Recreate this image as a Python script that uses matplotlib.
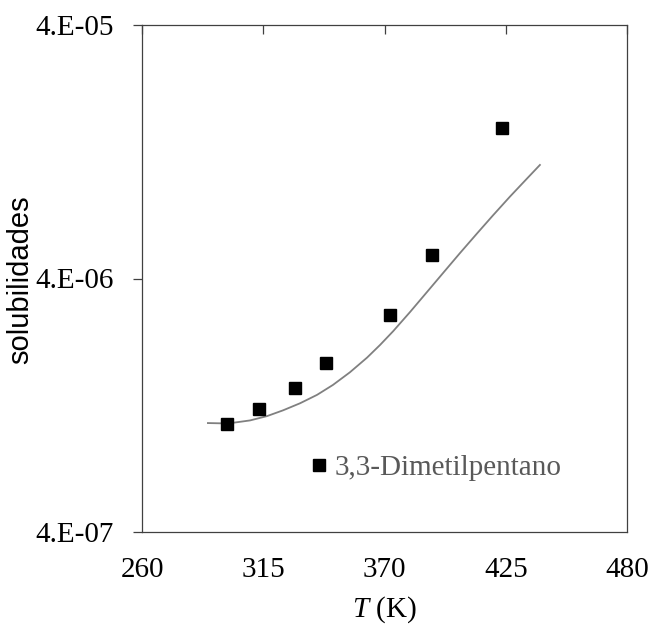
import matplotlib
matplotlib.use("Agg")
import matplotlib.pyplot as plt
from matplotlib.ticker import FixedLocator, NullLocator, FixedFormatter
from matplotlib.lines import Line2D

# Experimental data (markers)
T_exp = [298.7, 313.1, 329.4, 343.5, 372.5, 391.4, 423.4]
sol_exp = [1.067e-6, 1.222e-6, 1.48e-6, 1.86e-6, 2.87e-6, 4.95e-6, 1.57e-5]

# Model curve
T_model = [289.9, 299.0, 309.0, 316.7, 324.0, 331.7, 339.4, 346.6, 354.3, 362.1, 368.0,
           373.9, 381.6, 389.3, 396.5, 404.2, 412.0, 419.2, 426.9, 434.6, 440.5]
sol_model = [1.076e-6, 1.072e-6, 1.102e-6, 1.146e-6, 1.208e-6, 1.288e-6, 1.390e-6,
             1.521e-6, 1.706e-6, 1.950e-6, 2.188e-6, 2.477e-6, 2.951e-6, 3.540e-6,
             4.198e-6, 5.035e-6, 6.026e-6, 7.096e-6, 8.414e-6, 9.908e-6, 1.122e-5]

x_ticks = [260, 315, 370, 425, 480]
y_ticks = [4e-7, 4e-6, 4e-5]
y_tick_labels = ["4.E-07", "4.E-06", "4.E-05"]
series_label = "3,3-Dimetilpentano"

serif = "Liberation Serif"
plt.rcParams["mathtext.fontset"] = "custom"
plt.rcParams["mathtext.it"] = "Liberation Serif:italic"
plt.rcParams["mathtext.rm"] = "Liberation Serif"

fig = plt.figure(figsize=(6.53, 6.27), dpi=100)
ax = fig.add_axes([142/653, 1-532/627, 485/653, 507/627])

ax.plot(T_model, sol_model, color="#808080", lw=1.3, zorder=2)
ax.plot(T_exp, sol_exp, linestyle="none", marker="s", color="black",
        markersize=8.8, zorder=3)

ax.set_yscale("log")
ax.set_xlim(260, 480)
ax.set_ylim(4e-7, 4e-5)
ax.yaxis.set_major_locator(FixedLocator(y_ticks))
ax.yaxis.set_major_formatter(FixedFormatter(y_tick_labels))
ax.yaxis.set_minor_locator(NullLocator())
ax.set_xticks(x_ticks)
ax.set_xticklabels([str(v) for v in x_ticks])

spine_col = "#404040"
for s in ax.spines.values():
    s.set_color(spine_col)
    s.set_linewidth(0.9)

ax.tick_params(axis="y", which="major", direction="out", length=6.5, width=0.9,
               color=spine_col, pad=14, labelsize=21, labelcolor="black")
ax.tick_params(axis="x", which="major", bottom=False, top=True, direction="in",
               length=6.5, width=0.9, color=spine_col, labelbottom=True,
               labeltop=False, pad=18, labelsize=21, labelcolor="black")
for lab in ax.get_xticklabels() + ax.get_yticklabels():
    lab.set_fontfamily(serif)

ax.set_xlabel("$T$ (K)", fontsize=21, fontfamily=serif, labelpad=8)
fig.text(20/653, 1-280/627, "solubilidades", rotation=90, ha="center",
         va="center", fontsize=21, fontfamily="Liberation Sans")

handle = Line2D([], [], linestyle="none", marker="s", color="black", markersize=8.8)
leg = ax.legend([handle], [series_label], loc="center left",
                bbox_to_anchor=((310-142)/485, (532-468)/507),
                frameon=False, borderpad=0, borderaxespad=0,
                handlelength=0.6, handletextpad=0.25,
                prop={"family": serif, "size": 21}, labelcolor="#595959")

fig.savefig("out.png", dpi=100)
